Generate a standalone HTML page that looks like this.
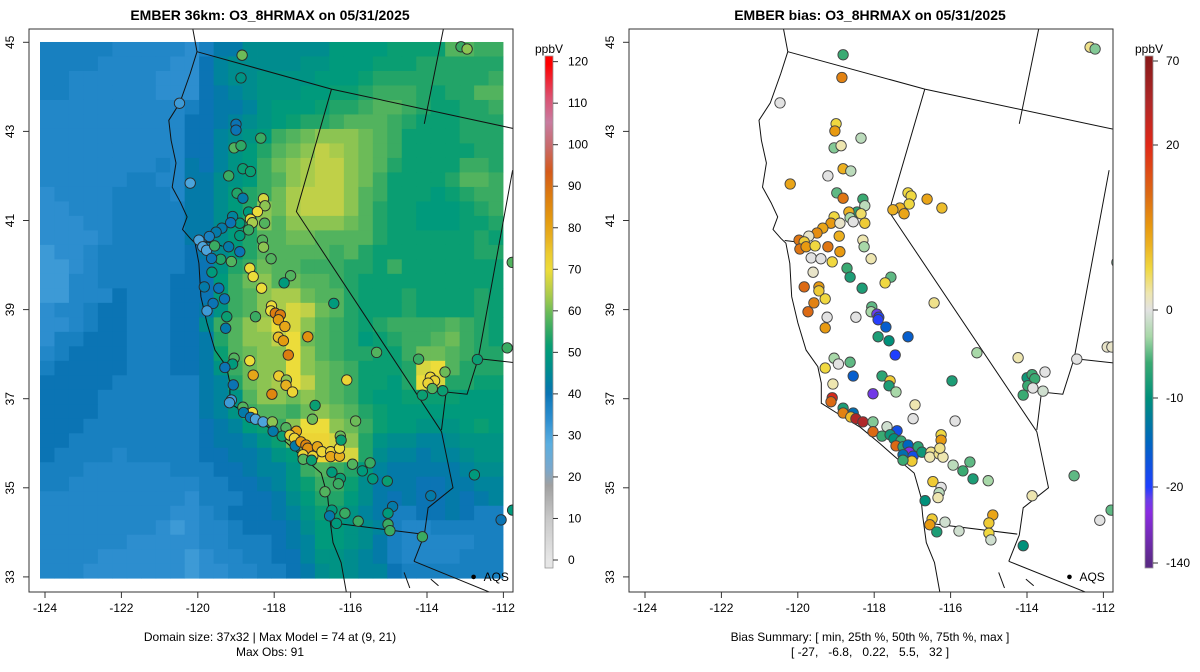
<!DOCTYPE html>
<html><head><meta charset="utf-8"><title>EMBER O3 maps</title>
<style>
html,body{margin:0;padding:0;background:#fff;}
svg{display:block;font-family:"Liberation Sans",Arial,sans-serif;}
</style></head>
<body>
<svg id="fig" width="1200" height="672" viewBox="0 0 1200 672" xmlns="http://www.w3.org/2000/svg">
<defs>
<clipPath id="clipL"><rect x="29" y="29" width="484" height="563"/></clipPath>
<clipPath id="clipR"><rect x="629" y="29" width="484" height="563"/></clipPath>
<linearGradient id="gradL" x1="0" y1="1" x2="0" y2="0"></linearGradient>
<linearGradient id="gradR" x1="0" y1="1" x2="0" y2="0"></linearGradient>
</defs>
<text x="270" y="20" font-size="14" font-weight="bold" text-anchor="middle">EMBER 36km: O3_8HRMAX on 05/31/2025</text>
<text x="870" y="20" font-size="14" font-weight="bold" text-anchor="middle">EMBER bias: O3_8HRMAX on 05/31/2025</text>
<g id="heat" clip-path="url(#clipL)"></g>
<g id="geoL" clip-path="url(#clipL)" fill="none" stroke="#111" stroke-width="1"></g>
<g id="geoR" clip-path="url(#clipR)" fill="none" stroke="#111" stroke-width="1"></g>
<g id="ptsL" clip-path="url(#clipL)"></g>
<g id="ptsR" clip-path="url(#clipR)"></g>
<rect x="29" y="29" width="484" height="563" fill="none" stroke="#333" stroke-width="1"/>
<rect x="629" y="29" width="484" height="563" fill="none" stroke="#333" stroke-width="1"/>
<g id="axes" font-size="12" fill="#000"></g>
<rect x="545" y="56" width="8" height="512" fill="url(#gradL)" stroke="#999" stroke-width="0.8"/>
<text x="549" y="53" font-size="12" text-anchor="middle">ppbV</text>
<rect x="1145" y="56" width="8" height="512" fill="url(#gradR)" stroke="#999" stroke-width="0.8"/>
<text x="1149" y="53" font-size="12" text-anchor="middle">ppbV</text>
<g id="cbticks" font-size="12"></g>
<text x="270" y="641" font-size="12" text-anchor="middle">Domain size: 37x32 | Max Model = 74 at (9, 21)</text>
<text x="270" y="656" font-size="12" text-anchor="middle">Max Obs: 91</text>
<text x="870" y="641" font-size="12" text-anchor="middle">Bias Summary: [ min, 25th %, 50th %, 75th %, max ]</text>
<text x="870" y="656" font-size="12" text-anchor="middle" xml:space="preserve">[ -27,   -6.8,   0.22,   5.5,   32 ]</text>
</svg>
<script>
const NS="http://www.w3.org/2000/svg";
// ---- data ----
// 37 rows x 32 cols; letter code: value = 24 + 2*(letter index)
const gridRows=[
"HHHHHGGGGGFHJJLLLLLLNNNNOOOORRQQ",
"HHHHGGGGGFFIKLLLLLMMNNNOOOPPPPPP",
"HHGGGGGGFFFIKLLMMMMNNNOPPPPPPPPQ",
"HHGGGGGGFFFIJKLMMMNNOOPQQQPOPPRR",
"GGGGGGGGGGHIJJKMNNNOPPQRRQPOOPPQ",
"GGGGGGGGGGIIJKLMNOPPQRRRQPOOOPPP",
"GGGGGGGGGGIIKLMNQRSTTTSRQOOOOPPP",
"GGGGGGGGGGIIKMNPRSTVUTSRQOOOOOPP",
"GGGGGGGGHGJIKMNQSTUVVTSRPOOOOQQP",
"GGGGGGHHGGJJLMNQRTUVVTSQOOOOPRRQ",
"FGGGGHHHHGJJLNPQSUVVVTRQOOONOPQQ",
"FFGGGHHHHHJJLNPTSUVVVTRPOONNNOPQ",
"FFFGGHHHHHJJLNPTRTTTTSRPOONNNOOP",
"FFFFGHHHHHJJLNPRRSSRRRRPOOOOOOPO",
"EFFGHHHHHHIJLNPRRRRRQRPOOOOOOOPP",
"EEFGHHHHHHIIMPQSRRQQQPPOQOOOOOOO",
"EEGGHHHHHIIINQSTRSRRQPOOOOOOOOOO",
"EEGGGIHHHIIINQRTUUSRRPOOOPOOOOPO",
"FGGHIIHHHIIJMQRTUWVSRPOOOPOOOOPO",
"FFGHIIHHHIILQRTUXWTRQPOPQQQQRQPO",
"FHHIIIHHHIIJPRTTVXSRQPNOPQQRSQPO",
"GHIIIIHHHIIJORSTTXTRQPPOOQSSRQPP",
"HIIIIIHHHIIJMQSTTXTSRQOOOPWXRPPP",
"IIIIIHHHHHHJKPSTUXVSRQOONPXWPPOO",
"IIIIHHHHHHHJKMRTTSTSRQONNOOOONNN",
"IIIIHHHHHHHJKMQRRQSTSRPONNNNNNNN",
"IIIHHHHHHHHIJKNOQTXXTSQONNMMMNON",
"IIHHHHHHHHHIJJKMOSYYWTPMLLKKLMMM",
"IHHHHGHHHHHIIJJKMNWYXWPLKKJKKLMM",
"HHHGGGGGGHHHIIJKKMQRQPNKJJJJJKLL",
"HHGGGGGGGGGHHIIJKMOQQOLJJJIIJJKK",
"GGGGGGGGGGFHHHIIJLNPPNLJIJIIJIJK",
"GGGGGGGGGFFGHIIIJKMOOMKJHHIIJIHH",
"GGGGGGGGFEFGGHIIIJLNNMLKHGGHHHHH",
"GGGGGGFFFFFGGHHHIJKNNMLJHGGGGGHH",
"GGGGFFFFFFEFGGHHIIKMMLKJHGGGGHHH",
"GGGFFFFFFFEFFGGHHIJLMLKKIHHHHHHH"];
const obsLon=[-118.84,-118.87,-120.48,-113.11,-112.95,-119.0,-119.0,-118.35,-119.05,-118.87,-118.82,-118.62,-119.19,-120.2,-118.97,-118.82,-118.28,-118.24,-118.67,-118.44,-118.62,-118.57,-118.25,-118.67,-118.9,-118.9,-119.09,-119.14,-119.37,-119.52,-119.7,-119.97,-119.87,-119.77,-119.56,-119.19,-118.9,-119.4,-119.64,-119.12,-118.31,-118.28,-118.08,-118.64,-118.55,-119.63,-119.83,-119.45,-119.3,-117.57,-117.74,-118.33,-119.6,-119.76,-118.07,-118.09,-117.97,-117.84,-117.89,-119.24,-118.49,-116.44,-117.72,-117.89,-117.12,-117.76,-117.63,-119.27,-111.77,-111.9,-115.32,
-119.05,-119.09,-118.64,-119.29,-118.55,-117.88,-117.68,-117.69,-117.52,-118.06,-119.07,-119.12,-119.17,-116.1,-114.22,-112.68,-113.91,-113.8,-113.97,-113.53,-113.86,-114.12,-113.59,-112.76,-113.9,-112.06,-111.76,-116.93,-117.0,-115.87,
-118.82,-118.57,-118.8,-118.62,-118.49,-118.29,-118.05,-118.03,-117.69,-117.79,-117.42,-117.59,-117.47,-117.45,-117.3,-117.17,-117.12,-117.25,-116.99,-117.24,-117.02,-116.87,-116.75,-116.52,-116.52,-116.29,-116.29,-116.27,-116.25,-115.95,-115.69,-115.49,-115.42,-115.04,-116.49,-116.27,-116.32,-116.67,-116.49,-116.55,-116.15,-116.37,-115.8,-114.9,-115.02,-115.02,-114.97,-114.12];
const obsLat=[44.71,44.2,43.63,44.9,44.85,43.16,43.03,42.85,42.63,42.68,42.16,42.1,42.0,41.84,41.61,41.5,41.49,41.33,41.19,41.2,41.03,40.95,40.94,40.79,40.66,40.94,41.09,40.95,40.83,40.74,40.64,40.56,40.41,40.33,40.43,40.41,40.3,40.13,40.15,40.08,40.56,40.4,40.14,39.93,39.74,39.84,39.51,39.48,39.24,39.76,39.6,39.48,39.14,38.97,39.08,38.97,38.92,38.88,38.77,38.84,38.84,39.14,38.62,38.38,38.39,38.3,37.98,38.58,40.06,38.14,38.04,
37.91,37.78,37.85,37.7,37.53,37.51,37.42,37.3,37.15,37.1,37.31,36.97,36.91,37.42,37.89,37.88,37.48,37.4,37.35,37.6,37.23,37.08,37.18,35.29,34.82,34.28,34.5,36.85,36.54,36.5,
36.81,36.69,36.69,36.58,36.54,36.48,36.48,36.27,36.35,36.16,36.27,36.18,36.11,35.94,36.03,35.96,35.89,35.74,35.71,35.64,35.62,35.92,35.81,35.81,35.7,35.71,35.89,36.16,36.07,35.53,35.38,35.56,35.2,35.15,35.35,35.21,35.09,34.91,34.5,34.37,34.43,34.2,34.25,34.58,34.43,34.18,34.04,33.9];
const obsVal=[60,48,32,56,62,40,40,56,58,55,52,52,56,30,54,42,68,62,50,70,70,64,58,56,50,50,44,40,42,42,38,30,30,30,56,42,40,54,40,58,58,62,58,70,70,50,42,40,40,58,50,70,40,32,70,70,88,88,82,52,56,50,80,76,84,82,88,42,58,56,58,
58,50,70,40,80,74,62,78,72,86,40,32,32,72,56,52,72,72,72,60,58,52,52,50,42,40,50,52,60,60,
58,70,42,40,30,30,62,42,58,52,80,72,72,42,82,86,84,72,72,58,52,80,72,72,80,78,70,60,52,58,50,56,50,52,50,52,56,58,50,42,56,50,56,42,50,56,56,56];
const biasLon=[-118.60,-118.63,-120.22,-118.78,-118.81,-118.14,-118.83,-118.65,-118.60,-118.40,-118.99,-119.96,-118.76,-118.60,-118.09,-118.04,-118.24,-118.14,-118.45,-118.83,-118.91,-118.68,-118.42,-118.34,-118.04,-119.12,-119.27,-119.48,-119.73,-119.60,-119.71,-119.55,-119.32,-118.99,-118.68,-118.70,-119.42,-119.17,-118.88,-118.09,-118.06,-117.88,-119.37,-118.50,-118.42,-119.60,-119.22,-119.22,-119.06,-119.35,-119.50,-118.11,-117.37,-117.52,-119.01,-118.27,-119.06,-117.86,-117.88,-117.73,-117.68,-117.70,-117.50,-116.26,
-116.93,-116.85,-116.90,-117.14,-117.32,-117.03,-116.44,-116.06,
-117.70,-117.42,-116.93,-117.26,-115.16,-114.10,-112.59,-118.83,-118.72,-119.06,-118.42,-118.34,-117.60,-117.39,-117.42,-117.24,-118.86,-115.80,-117.83,-118.88,-118.91,-116.75,-116.80,-115.72,-118.60,-118.60,-118.34,-118.40,-118.27,-118.09,-117.83,-117.83,-117.47,-117.21,-117.60,-117.39,-117.29,-117.11,-117.24,-117.06,-116.93,-116.90,-117.06,-116.80,-116.83,-117.06,-116.67,-116.57,-116.34,-116.37,-116.13,-116.03,-116.08,-116.08,-116.11,-115.77,-115.52,-115.34,-115.26,-114.87,-116.29,-116.08,-116.13,-116.16,-116.49,-116.31,-116.37,-115.98,-116.19,-115.62,-114.75,-114.85,-114.85,-114.80,-113.97,-113.74,-112.66,
-113.87,-113.74,-113.67,-113.85,-113.72,-113.46,-113.41,-113.97,-111.56,-111.81,-111.69,-112.25,-112.12,-112.0,-111.71];
const biasLat=[44.72,44.21,43.64,43.17,43.01,42.85,42.63,42.68,42.16,42.11,42.0,41.82,41.62,41.50,41.48,41.33,41.19,41.15,41.19,41.08,40.94,40.94,41.06,40.97,40.94,40.83,40.72,40.65,40.56,40.52,40.36,40.41,40.43,40.41,40.30,40.65,40.16,40.14,40.07,40.56,40.41,40.14,39.84,39.93,39.73,39.51,39.51,39.42,39.24,39.15,38.95,39.48,39.73,39.60,38.83,38.83,38.59,39.06,38.95,38.90,38.83,38.77,38.61,39.15,
41.62,41.55,41.37,41.28,41.24,41.15,41.48,41.28,
38.39,38.30,38.39,37.98,38.03,37.92,37.89,37.91,37.78,37.69,37.82,37.51,37.51,37.40,37.29,37.15,37.33,37.40,37.11,37.02,36.93,36.86,36.55,36.50,36.79,36.68,36.68,36.59,36.55,36.48,36.48,36.26,36.37,36.28,36.16,36.19,36.10,36.05,35.94,35.92,35.96,35.80,35.74,35.71,35.60,35.62,35.92,35.80,35.80,35.69,35.76,35.69,36.19,36.07,35.89,35.51,35.38,35.58,35.20,35.16,35.14,35.01,34.89,34.78,34.71,34.30,34.17,34.23,34.01,34.03,34.39,34.21,33.98,33.83,33.70,34.82,35.27,
37.47,37.54,37.45,37.29,37.24,37.17,37.60,37.08,40.06,38.16,38.16,44.89,44.85,34.27,34.50];
const biasVal=[-6,12,0,5,10,-2,-4,2,8,-2,0,9,-5,13,-6,-2,-7,4,8,5,10,1,-3,0,6,9,11,1,13,6,13,10,5,13,10,8,0,0,5,2,-3,2,1,-6,-8,14,10,6,5,12,14,-8,-5,5,0,0,10,-5,-3,-40,-20,-22,-16,3,
5,5,5,8,8,9,9,7,
-8,-10,-16,-20,-3,2,0,-3,0,5,-5,-16,-7,6,-8,-3,2,-8,-45,25,14,2,0,0,-8,12,-14,7,45,45,-4,14,-1,-18,-6,-9,-10,-6,14,-7,-15,-60,-14,-18,6,-6,-7,-9,3,2,3,2,5,10,3,-2,-6,-5,-8,-3,6,0,-2,2,-10,6,10,-1,-8,-1,9,6,5,-1,-10,2,-5,
-9,-6,-6,-6,0,-1,0,-6,-5,1,1,3,-4,0,-5];
const xTicks=[-124,-122,-120,-118,-116,-114,-112];
const yTicks=[45,43,41,39,37,35,33];
const obsBarTicks=[0,10,20,30,40,50,60,70,80,90,100,110,120];
const biasBarTicks=[-140,-20,-10,0,20,70];
const biasBarPos=[563,487,398,310,145,61];
const geoLines=[
[[-120.13,45.3],[-120.02,44.79],[-120.2,44.3],[-120.47,43.64],[-120.76,43.25],[-120.7,42.8],[-120.57,42.29],[-120.67,41.75],[-120.45,41.4],[-120.28,41.08],[-120.4,40.8],[-120.2,40.6],[-120.07,40.49],[-119.97,40.04],[-119.92,39.29],[-119.76,38.7],[-119.55,38.09],[-119.25,37.72],[-119.16,37.35],[-119.16,36.9],[-118.76,36.68],[-118.16,36.36],[-117.66,36.0],[-117.27,35.7],[-116.77,35.33],[-116.6,34.8],[-116.55,34.35],[-116.46,33.77],[-116.25,33.32],[-116.1,32.6]],
[[-120.1,40.55],[-119.8,40.52],[-119.6,40.5],[-119.35,40.42]],
[[-120.02,44.79],[-116.5,43.95],[-111.5,43.02]],
[[-116.5,43.95],[-117.42,41.2],[-113.62,36.26]],
[[-113.62,36.26],[-113.32,35.0],[-113.97,34.55],[-114.07,33.94],[-114.34,33.35]],
[[-116.37,34.2],[-114.12,33.96]],
[[-114.34,33.35],[-112.2,32.6]],
[[-113.57,45.3],[-114.07,43.17]],
[[-111.76,42.13],[-112.66,37.9],[-112.95,37.1],[-113.5,37.15],[-113.62,36.3]],
[[-112.66,37.9],[-111.6,37.8]],
[[-114.6,33.1],[-114.45,32.75]],[[-113.9,32.95],[-113.7,32.8]]];
// ---- scales ----
const pxL=lon=>45+(lon+124)*38.2;
const pxR=lon=>633+(lon+124)*38.9;
const tickXR=lon=>645+(lon+124)*38.2;
const py=lat=>42.3+(45-lat)*44.55;
const gridLon0=-124.131,gridDLon=0.3788,gridLat0=45.007,gridDLat=0.3253;
const obsStops=[[0,'#e6e6e6'],[10,'#c8c8c8'],[18,'#a0a0a0'],[22,'#7aa8cc'],[28,'#5aaee0'],[32,'#3d9ad6'],[34,'#2d8ecf'],[36,'#2287c8'],[38,'#1880c0'],[40,'#0b74b4'],[42,'#047aa8'],[44,'#00849c'],[46,'#008c8e'],[48,'#009384'],[50,'#009a7c'],[52,'#0a9e72'],[54,'#22a468'],[56,'#3aab62'],[58,'#52b35e'],[60,'#6cbb58'],[62,'#8cc452'],[64,'#a8cb4c'],[66,'#c0d048'],[68,'#d6d640'],[70,'#ecdc3a'],[74,'#eccc30'],[78,'#e8b020'],[82,'#e49c10'],[88,'#dc7c10'],[94,'#d45a1a'],[100,'#c86a6a'],[106,'#c87ca0'],[112,'#dc5070'],[120,'#ff0000']];
const biasStops=[[-140,'#5b2a86'],[-60,'#8a2be2'],[-40,'#6a3de8'],[-20,'#1f3fff'],[-15,'#0066c0'],[-10,'#00907a'],[-6,'#3aaa72'],[-3,'#a8d8a8'],[0,'#e2e2e2'],[2,'#eee6b0'],[5,'#f0d840'],[8,'#ecb020'],[10,'#e89a10'],[14,'#dc6a14'],[20,'#e02818'],[45,'#b02828'],[70,'#8b1a1a']];
function hex(c){return [1,3,5].map(i=>parseInt(c.substr(i,2),16));}
function colorFor(stops,v){
  if(v<=stops[0][0])return stops[0][1];
  for(let i=1;i<stops.length;i++){if(v<=stops[i][0]){const a=stops[i-1],b=stops[i];const t=(v-a[0])/(b[0]-a[0]);const ca=hex(a[1]),cb=hex(b[1]);return 'rgb('+ca.map((x,k)=>Math.round(x+(cb[k]-x)*t)).join(',')+')';}}
  return stops[stops.length-1][1];}
function el(tag,attrs,parent){const e=document.createElementNS(NS,tag);for(const k in attrs)e.setAttribute(k,attrs[k]);parent.appendChild(e);return e;}
// ---- heatmap ----
const heat=document.getElementById('heat');
gridRows.forEach((row,r)=>{
  for(let c=0;c<row.length;c++){
    const v=24+2*(row.charCodeAt(c)-65);
    const x0=pxL(gridLon0+c*gridDLon),x1=pxL(gridLon0+(c+1)*gridDLon),y0=py(gridLat0-r*gridDLat),y1=py(gridLat0-(r+1)*gridDLat);
    const cell=el('rect',{x:x0.toFixed(2),y:y0.toFixed(2),width:(x1-x0+0.4).toFixed(2),height:(y1-y0+0.4).toFixed(2),fill:colorFor(obsStops,v)},heat);
    
    
  }
});
// ---- geo ----
function drawGeo(g,px){geoLines.forEach(l=>{const p=el('polyline',{points:l.map(q=>px(q[0]).toFixed(1)+','+py(q[1]).toFixed(1)).join(' ')},g);
  
  });
}
drawGeo(document.getElementById('geoL'),pxL);
drawGeo(document.getElementById('geoR'),pxR);
[[pxL,'geoL'],[pxR,'geoR']].forEach(([px,id])=>{const g=document.getElementById(id);
  const d=el('circle',{cx:px(-112.78),cy:py(33.0),r:2.3,fill:'#000',stroke:'none'},g);
  
  
  const t=el('text',{x:px(-112.78)+10,y:py(33.0)+4,'font-size':12,fill:'#000',stroke:'none'},g);t.textContent='AQS';
  
  });
// ---- points ----
const ptsL=document.getElementById('ptsL');
obsVal.forEach((v,i)=>{const c=el('circle',{cx:pxL(obsLon[i]).toFixed(1),cy:py(obsLat[i]).toFixed(1),r:5.2,fill:colorFor(obsStops,v),stroke:'#2a2a2a','stroke-width':0.9},ptsL);
  
  });
const ptsR=document.getElementById('ptsR');
biasVal.forEach((v,i)=>{const c=el('circle',{cx:pxR(biasLon[i]).toFixed(1),cy:py(biasLat[i]).toFixed(1),r:5.2,fill:colorFor(biasStops,v),stroke:'#444','stroke-width':0.9},ptsR);
  
  });
// ---- axes ----
const ax=document.getElementById('axes');
[[pxL,29],[tickXR,629]].forEach(([px,left])=>{
  xTicks.forEach(t=>{const x=px(t);
    const tk=el('line',{x1:x,y1:592,x2:x,y2:598,stroke:'#333'},ax);
    
    
    const lb=el('text',{x:x,y:612,'text-anchor':'middle'},ax);lb.textContent=t;
    
    });
  yTicks.forEach(t=>{const y=py(t);
    const tk=el('line',{x1:left-6,y1:y,x2:left,y2:y,stroke:'#333'},ax);
    
    
    const lx=left-15;
    const lb=el('text',{x:lx,y:y,'text-anchor':'middle',transform:'rotate(-90 '+lx+' '+y+')'},ax);lb.textContent=t;
    
    });
});
// ---- colorbars ----
const yObs=v=>560-v*4.153;
const gL=document.getElementById('gradL');
for(let v=-2;v<=122;v+=2){el('stop',{offset:((v+2)/124).toFixed(4),'stop-color':colorFor(obsStops,v)},gL);}
const gR=document.getElementById('gradR');
function yBias(v){for(let i=1;i<biasBarTicks.length;i++){if(v<=biasBarTicks[i]){const t=(v-biasBarTicks[i-1])/(biasBarTicks[i]-biasBarTicks[i-1]);return biasBarPos[i-1]+(biasBarPos[i]-biasBarPos[i-1])*t;}}return biasBarPos[biasBarPos.length-1];}
const biasSample=[-140,-100,-60,-40,-30,-20,-17,-15,-12,-10,-8,-6,-4,-3,-2,-1,0,1,2,3,5,8,10,14,20,30,45,60,70];
biasSample.forEach(v=>{el('stop',{offset:((568-yBias(v))/512).toFixed(4),'stop-color':colorFor(biasStops,v)},gR);});
const cb=document.getElementById('cbticks');
obsBarTicks.forEach(v=>{const y=yObs(v);
  const tk=el('line',{x1:553,y1:y,x2:558,y2:y,stroke:'#333'},cb);
  
  
  const t=el('text',{x:568,y:y+4},cb);t.textContent=v;
  
  });
biasBarTicks.forEach((v,i)=>{const y=biasBarPos[i];
  const tk=el('line',{x1:1153,y1:y,x2:1158,y2:y,stroke:'#333'},cb);
  
  
  const t=el('text',{x:1166,y:y+4},cb);t.textContent=v;
  
  });
</script>
</body></html>
